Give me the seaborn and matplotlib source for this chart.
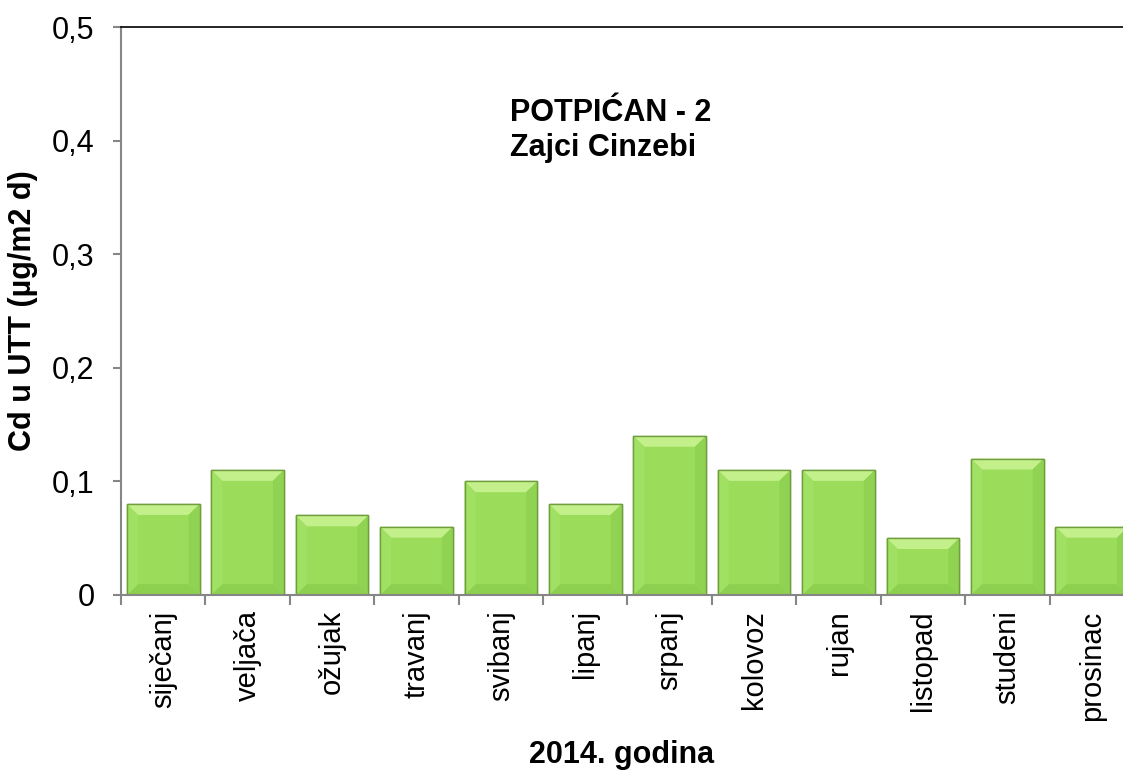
import numpy as np
import pandas as pd
import matplotlib
matplotlib.use("Agg")
import matplotlib.pyplot as plt
from matplotlib.patches import Polygon
from matplotlib.ticker import FixedLocator, FuncFormatter
import seaborn as sns

months = ["siječanj", "veljača", "ožujak", "travanj", "svibanj", "lipanj",
          "srpanj", "kolovoz", "rujan", "listopad", "studeni", "prosinac"]
cd_values = [0.08, 0.11, 0.07, 0.06, 0.10, 0.08, 0.14, 0.11, 0.11, 0.05, 0.12, 0.06]
y_ticks = [0, 0.1, 0.2, 0.3, 0.4, 0.5]

df = pd.DataFrame({"mjesec": months, "Cd": cd_values})

sns.set_theme(style="white")
plt.rcParams["font.family"] = ["Liberation Sans", "DejaVu Sans"]
plt.rcParams["text.color"] = "black"
plt.rcParams["axes.labelcolor"] = "black"

fig = plt.figure(figsize=(11.23, 7.76), dpi=100)
ax = fig.add_axes([121 / 1123, 1 - 595 / 776, 1002 / 1123, (595 - 27) / 776])

sns.barplot(data=df, x="mjesec", y="Cd", color="#9BDD5B", saturation=1,
            width=0.86, edgecolor="#6F9E3C", linewidth=1.0, ax=ax)

ax.set_xlim(-0.5, 11.37)
ax.set_ylim(0, 0.5)

# bevel look on each bar (top light, bottom/right a bit darker)
dx, dy = 0.13, 0.0095
for p in ax.patches:
    x0, y0 = p.get_x(), p.get_y()
    x1, y1 = x0 + p.get_width(), y0 + p.get_height()
    faces = [
        ([(x0, y1), (x1, y1), (x1 - dx, y1 - dy), (x0 + dx, y1 - dy)], "#C4F08C"),
        ([(x0, y0), (x1, y0), (x1 - dx, y0 + dy), (x0 + dx, y0 + dy)], "#8DCF4F"),
        ([(x1, y0), (x1, y1), (x1 - dx, y1 - dy), (x1 - dx, y0 + dy)], "#90D252"),
        ([(x0, y0), (x0, y1), (x0 + dx, y1 - dy), (x0 + dx, y0 + dy)], "#A0E062"),
    ]
    for pts, c in faces:
        ax.add_patch(Polygon(pts, closed=True, facecolor=c, edgecolor="none", zorder=p.get_zorder() + 0.1))
    ax.add_patch(Polygon([(x0, y0), (x1, y0), (x1, y1), (x0, y1)], closed=True, fill=False,
                         edgecolor="#6F9E3C", linewidth=1.0, zorder=p.get_zorder() + 0.2))

ax.set_yticks(y_ticks)
ax.yaxis.set_major_formatter(FuncFormatter(lambda v, p: "0" if v == 0 else f"{v:.1f}".replace(".", ",")))
ax.tick_params(axis="y", labelsize=22, length=6, width=1.5, color="#868686",
               labelcolor="black", left=True, pad=13)

# month labels centred, tick marks at category borders
ax.set_xticks(range(len(months)))
ax.set_xticklabels(months, rotation=90)
ax.tick_params(axis="x", which="major", length=0, labelsize=21, pad=11, labelcolor="black")
ax.xaxis.set_minor_locator(FixedLocator(np.arange(-0.5, len(months), 1)))
ax.tick_params(axis="x", which="minor", length=7, width=1.5, color="#868686", bottom=True)

for s in ["left", "bottom"]:
    ax.spines[s].set_color("#868686")
    ax.spines[s].set_linewidth(1.5)
ax.spines["top"].set_color("black")
ax.spines["top"].set_linewidth(1.2)
ax.spines["right"].set_visible(False)

ax.set_xlabel("2014. godina", fontsize=22, fontweight="bold", labelpad=14)
ax.set_ylabel("Cd u UTT (µg/m2 d)", fontsize=22, fontweight="bold", labelpad=10)

ax.text(0.388, 0.875, "POTPIĆAN - 2\nZajci Cinzebi", transform=ax.transAxes,
        fontsize=22, fontweight="bold", va="top", ha="left", linespacing=1.2)

fig.savefig("out.png", dpi=100)
